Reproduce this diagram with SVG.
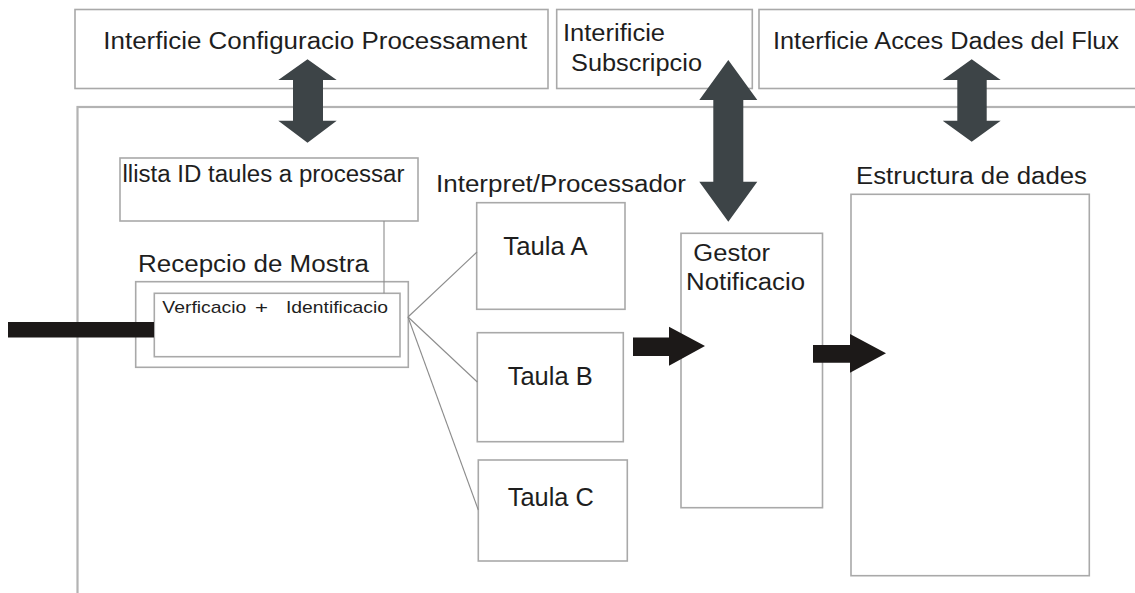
<svg xmlns="http://www.w3.org/2000/svg" width="1135" height="593" viewBox="0 0 1135 593">
  <style>
    .box { fill: #ffffff; stroke: #a9a9a9; stroke-width: 1.6; }
    .frame { fill: none; stroke: #b3b3b3; stroke-width: 2.2; }
    .lbl { font-family: "Liberation Sans", Arial, sans-serif; fill: #1e1e1e; font-size: 23px; }
    .small { font-size: 17px; }
    .big { font-size: 25px; }
    .wire { fill: none; stroke: #8c8c8c; stroke-width: 1.1; }
    .dbl { fill: #3d4447; }
    .blk { fill: #1c1918; }
  </style>

  <rect width="1135" height="593" fill="#ffffff"/>

  <!-- processing engine frame (open to the right and bottom) -->
  <g id="engine">
    <rect class="frame" x="77.5" y="107" width="1120" height="560"/>
  </g>

  <!-- external interfaces -->
  <g id="if-config">
    <rect class="box" x="75" y="9.5" width="473" height="79"/>
    <text class="lbl" x="103.3" y="49" textLength="424" lengthAdjust="spacingAndGlyphs">Interficie Configuracio Processament</text>
  </g>
  <g id="if-subscripcio">
    <rect class="box" x="556.7" y="9.5" width="195.6" height="79"/>
    <text class="lbl" x="563" y="40.7" textLength="102" lengthAdjust="spacingAndGlyphs">Interificie</text>
    <text class="lbl" x="571" y="70.7" textLength="131" lengthAdjust="spacingAndGlyphs">Subscripcio</text>
  </g>
  <g id="if-acces">
    <rect class="box" x="759" y="9.5" width="420" height="79"/>
    <text class="lbl" x="773" y="49.3" textLength="346" lengthAdjust="spacingAndGlyphs">Interficie Acces Dades del Flux</text>
  </g>

  <!-- table id list -->
  <g id="llista">
    <rect class="box" x="120" y="158" width="298" height="63"/>
    <text class="lbl" x="122.5" y="182" textLength="282" lengthAdjust="spacingAndGlyphs">llista ID taules a processar</text>
  </g>

  <!-- sample reception -->
  <g id="recepcio">
    <text class="lbl" x="138" y="272" textLength="231" lengthAdjust="spacingAndGlyphs">Recepcio de Mostra</text>
    <rect class="box" x="135.7" y="281.7" width="272.6" height="85.6"/>
    <rect class="box" x="154.3" y="293.3" width="245.7" height="63.4"/>
    <text class="lbl small" y="313.3"><tspan x="162.3" textLength="84" lengthAdjust="spacingAndGlyphs">Verficacio</tspan><tspan x="255" textLength="13" lengthAdjust="spacingAndGlyphs">+</tspan><tspan x="286" textLength="102" lengthAdjust="spacingAndGlyphs">Identificacio</tspan></text>
  </g>

  <!-- interpreter / processor tables -->
  <g id="interpret">
    <text class="lbl" x="436" y="191.7" textLength="250" lengthAdjust="spacingAndGlyphs">Interpret/Processador</text>
  </g>
  <g id="taula-a">
    <rect class="box" x="476.7" y="202.7" width="148.3" height="106.6"/>
    <text class="lbl big" x="503.3" y="255" textLength="84.4" lengthAdjust="spacingAndGlyphs">Taula A</text>
  </g>
  <g id="taula-b">
    <rect class="box" x="477.3" y="332.7" width="146" height="109"/>
    <text class="lbl big" x="507.7" y="385" textLength="85" lengthAdjust="spacingAndGlyphs">Taula B</text>
  </g>
  <g id="taula-c">
    <rect class="box" x="478.3" y="460" width="149" height="101"/>
    <text class="lbl big" x="507.8" y="506" textLength="86" lengthAdjust="spacingAndGlyphs">Taula C</text>
  </g>

  <!-- notification manager -->
  <g id="gestor">
    <rect class="box" x="681" y="233.3" width="141.5" height="274.4"/>
    <text class="lbl" x="693.3" y="261" textLength="76.7" lengthAdjust="spacingAndGlyphs">Gestor</text>
    <text class="lbl" x="686" y="290" textLength="119" lengthAdjust="spacingAndGlyphs">Notificacio</text>
  </g>

  <!-- data structure -->
  <g id="estructura">
    <text class="lbl" x="856" y="184" textLength="231" lengthAdjust="spacingAndGlyphs">Estructura de dades</text>
    <rect class="box" x="851" y="194.3" width="238.3" height="381.4"/>
  </g>

  <!-- connectors -->
  <g id="connectors">
    <line class="wire" x1="384" y1="221" x2="384" y2="293.3"/>
    <line class="wire" x1="408" y1="317" x2="477" y2="252"/>
    <line class="wire" x1="408" y1="317" x2="477.3" y2="382"/>
    <line class="wire" x1="408" y1="317" x2="478.3" y2="510"/>

    <!-- sample input bar -->
    <rect class="blk" x="8" y="322" width="146" height="15.5"/>

    <!-- flow arrows -->
    <polygon class="blk" points="633,337.5 669,337.5 669,326.7 705,346 669,365.7 669,356 633,356"/>
    <polygon class="blk" points="813,345 850,345 850,334 886,353.3 850,372.7 850,362.7 813,362.7"/>

    <!-- interface double arrows -->
    <polygon class="dbl" points="307.5,59.3 336.7,80 323,80 323,120.7 336.7,120.7 307.5,142.7 278.3,120.7 293,120.7 293,80 278.3,80"/>
    <polygon class="dbl" points="728.3,60 757.3,100 743.3,100 743.3,181.7 757.3,181.7 728.3,221.7 699.3,181.7 713.3,181.7 713.3,100 699.3,100"/>
    <polygon class="dbl" points="971.7,59.3 1000.7,80 986.7,80 986.7,120.7 1000.7,120.7 971.7,141.7 942.7,120.7 957.3,120.7 957.3,80 942.7,80"/>
  </g>
</svg>
